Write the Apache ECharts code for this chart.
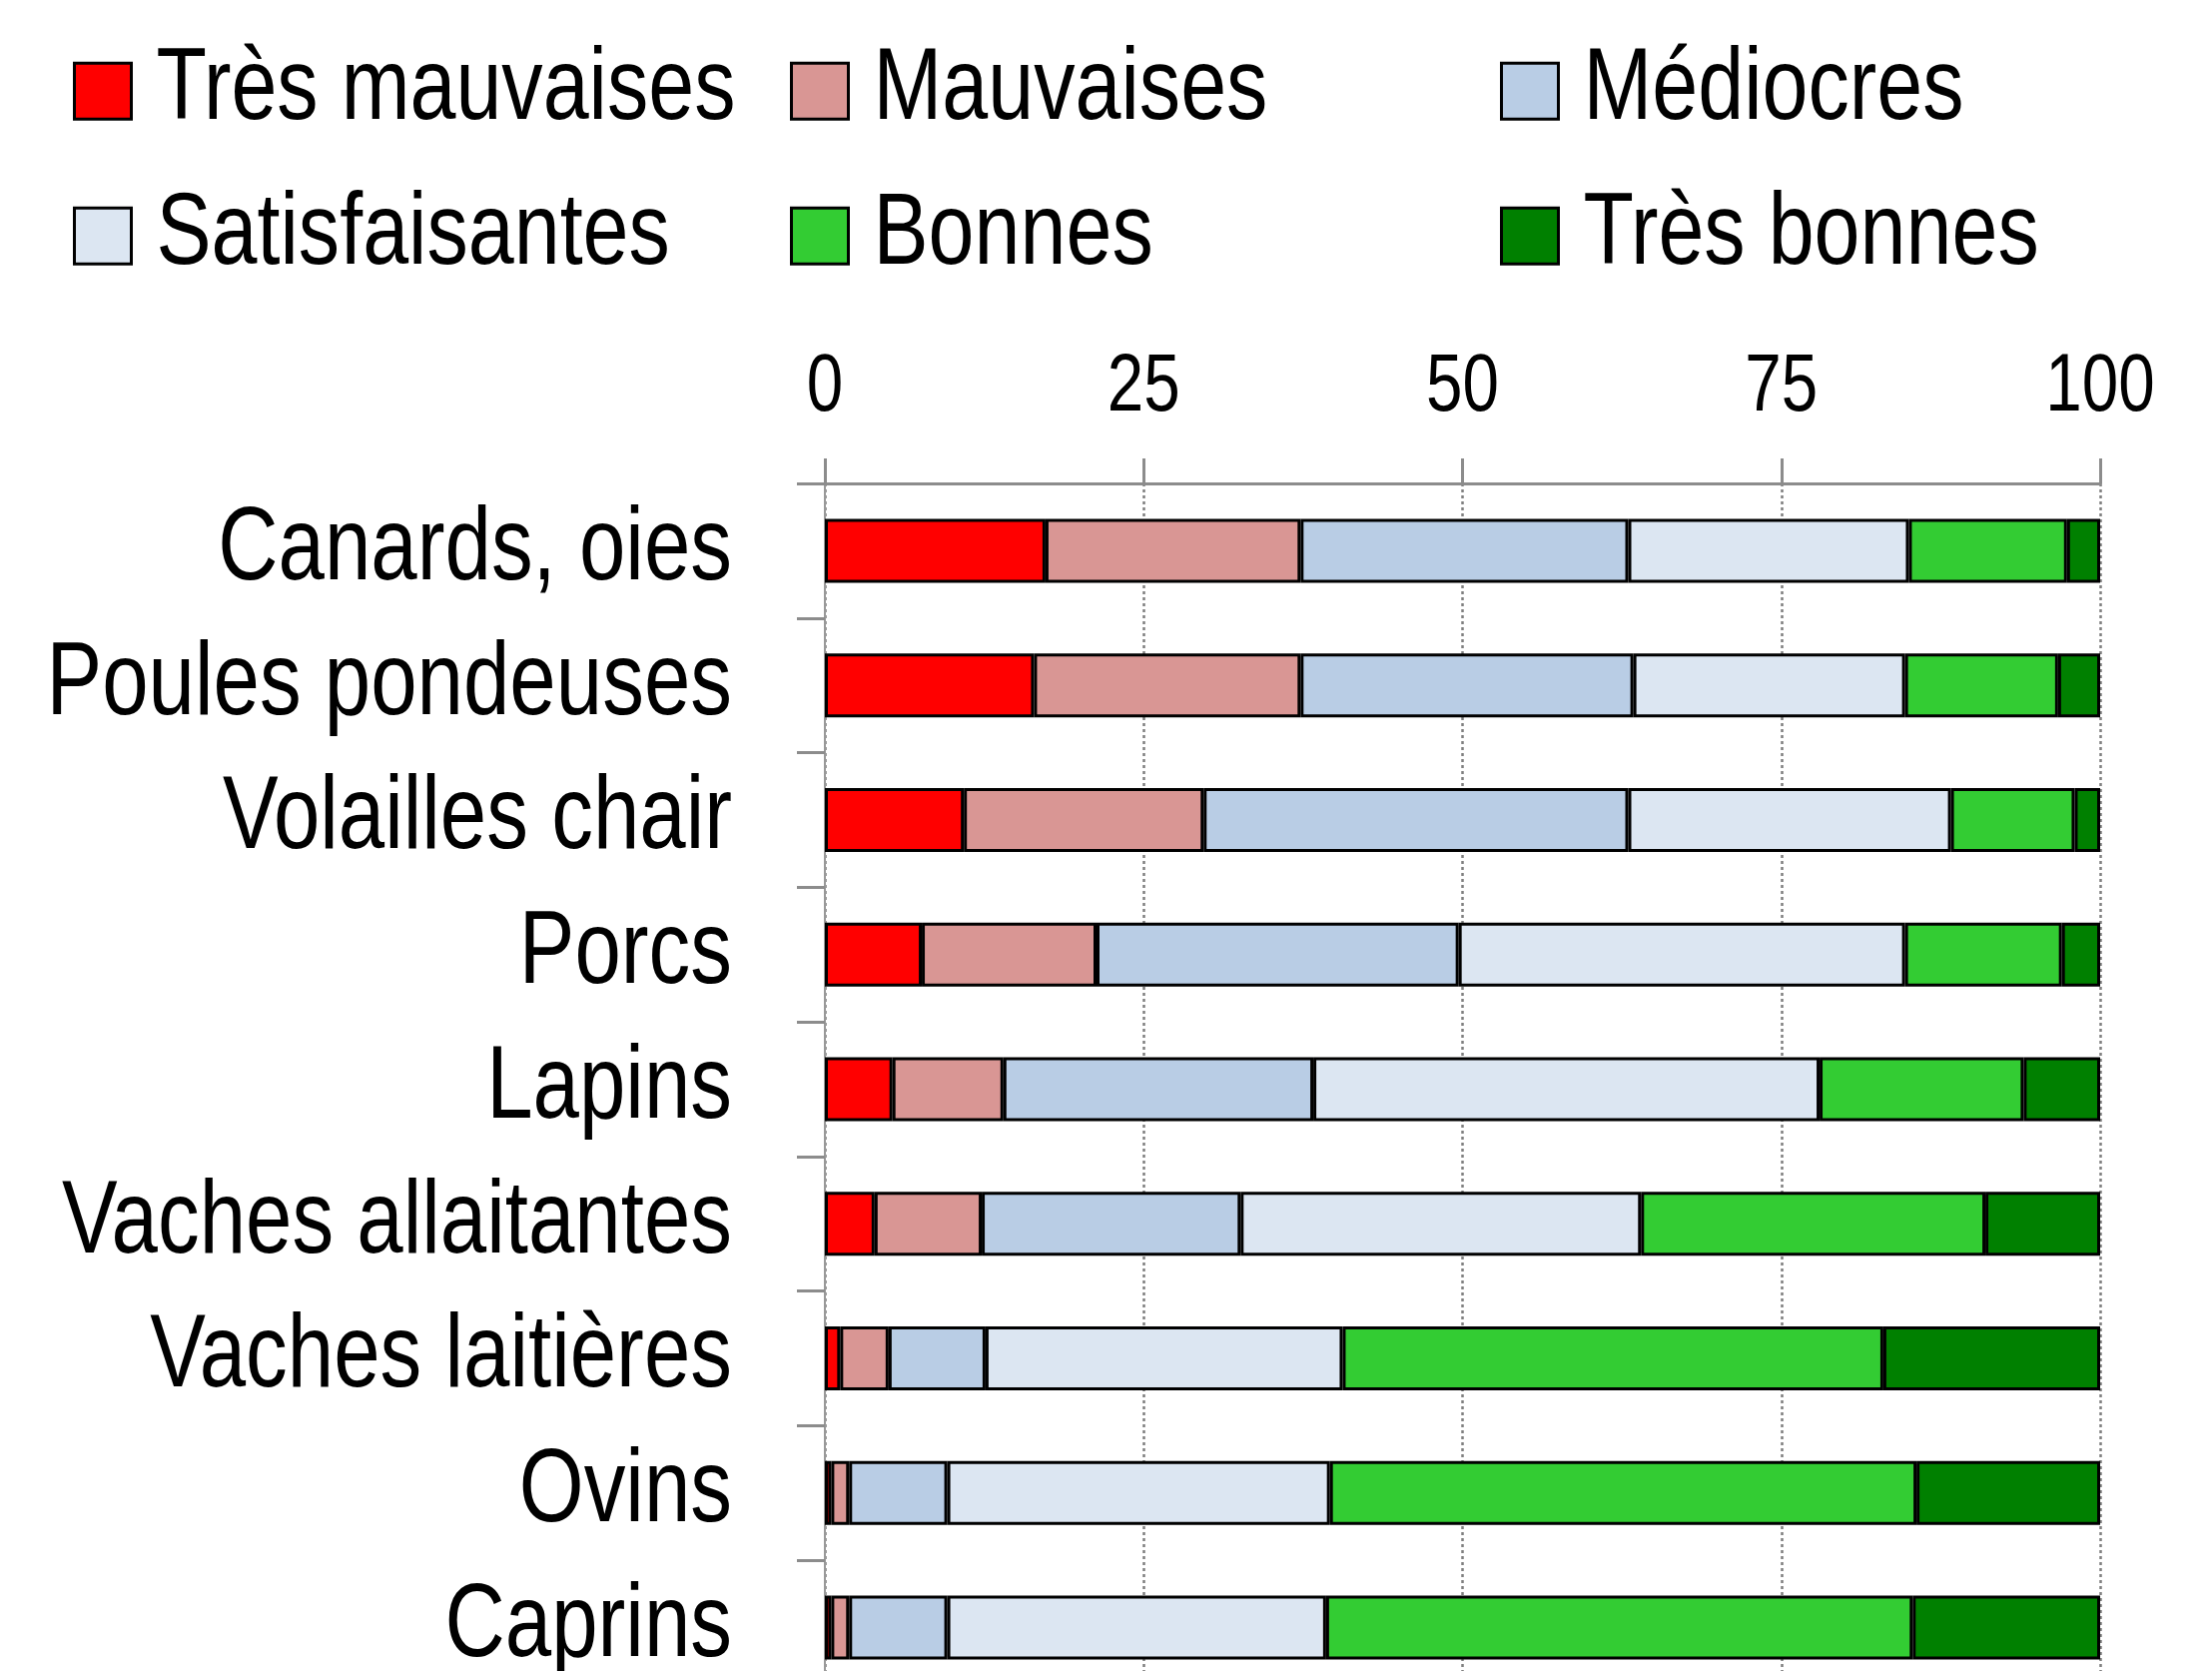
<!DOCTYPE html>
<html>
<head>
<meta charset="utf-8">
<script src="https://cdn.jsdelivr.net/npm/echarts@6/dist/echarts.min.js"></script>
<style>
html,body{margin:0;padding:0;background:#fff;}
#chart{width:2215px;height:1673px;}
</style>
</head>
<body>
<div id="chart"></div>
<script>
const categories = ["Canards, oies","Poules pondeuses","Volailles chair","Porcs","Lapins","Vaches allaitantes","Vaches laitières","Ovins","Caprins"];
const seriesNames = ["Très mauvaises","Mauvaises","Médiocres","Satisfaisantes","Bonnes","Très bonnes"];
const tresMauvaises = [17.3,16.4,10.9,7.6,5.3,3.9,1.2,0.5,0.5];
const mauvaises     = [20.0,20.9,18.8,13.7,8.7,8.4,3.8,1.4,1.4];
const mediocres     = [25.7,26.1,33.3,28.4,24.3,20.3,7.6,7.7,7.7];
const satisfaisantes= [22.0,21.3,25.3,35.0,39.7,31.4,28.0,30.0,29.7];
const bonnes        = [12.4,12.0,9.7,12.3,16.0,27.0,42.4,46.0,46.0];
const tresBonnes    = [2.6,3.3,2.0,3.0,6.0,9.0,17.0,14.4,14.7];
const xTicks = [0,25,50,75,100];

const values = [tresMauvaises,mauvaises,mediocres,satisfaisantes,bonnes,tresBonnes];
const colors = ["#FF0000","#D99694","#B9CDE5","#DCE6F2","#33CC33","#008000"];
const FONT = "'Liberation Sans',Arial,sans-serif";

// Narrow (condensed) rendering of text: horizontal compression of the glyphs
const SX = 0.81;
const P = CanvasRenderingContext2D.prototype;
const origFill = P.fillText, origMeasure = P.measureText;
P.fillText = function(t, x, y, maxW){
  this.save(); this.translate(x, y); this.scale(SX, 1);
  origFill.call(this, t, 0, 0); this.restore();
};
P.measureText = function(t){
  const m = origMeasure.call(this, t);
  return {
    width: m.width * SX,
    actualBoundingBoxAscent: m.actualBoundingBoxAscent,
    actualBoundingBoxDescent: m.actualBoundingBoxDescent,
    actualBoundingBoxLeft: m.actualBoundingBoxLeft * SX,
    actualBoundingBoxRight: m.actualBoundingBoxRight * SX,
    fontBoundingBoxAscent: m.fontBoundingBoxAscent,
    fontBoundingBoxDescent: m.fontBoundingBoxDescent
  };
};

const chart = echarts.init(document.getElementById('chart'), null, {renderer:'canvas'});

const legendPos = [[73,50],[791,50],[1502,50],[73,195],[791,195],[1502,195]];
const legends = seriesNames.map((n,i)=>({
  data:[n], left:legendPos[i][0], top:legendPos[i][1], orient:'horizontal',
  itemWidth:57, itemHeight:56, padding:0, selectedMode:false,
  icon:'rect',
  itemStyle:{borderColor:'#000',borderWidth:3},
  textStyle:{fontFamily:FONT,fontSize:102,color:'#000',padding:[0,0,0,20]}
}));

chart.setOption({
  backgroundColor:'#fff',
  animation:false,
  legend:legends,
  grid:{left:826, top:484, width:1277, height:9*134.75, containLabel:false, outerBoundsMode:'none'},
  xAxis:{
    type:'value', position:'top', min:0, max:100, interval:25,
    axisLine:{show:true,lineStyle:{color:'#8c8c8c',width:3}},
    axisTick:{show:true,length:25,lineStyle:{color:'#8c8c8c',width:3}},
    axisLabel:{fontFamily:FONT,fontSize:81,color:'#000',margin:63,
      formatter:v=>xTicks.includes(v)?String(v):''},
    splitLine:{show:true,lineStyle:{color:'#7f7f7f',width:2.5,type:[3,3]}}
  },
  yAxis:{
    type:'category', data:categories, inverse:true,
    axisLine:{show:true,lineStyle:{color:'#999',width:2}},
    axisTick:{show:true,length:28,lineStyle:{color:'#8c8c8c',width:3}},
    axisLabel:{fontFamily:FONT,fontSize:103,color:'#000',margin:93,interval:0,hideOverlap:false}
  },
  series:seriesNames.map((n,i)=>({
    name:n, type:'bar', stack:'total', data:values[i], barWidth:64,
    itemStyle:{color:colors[i],borderColor:'#000',borderWidth:3}
  }))
});
</script>
</body>
</html>
